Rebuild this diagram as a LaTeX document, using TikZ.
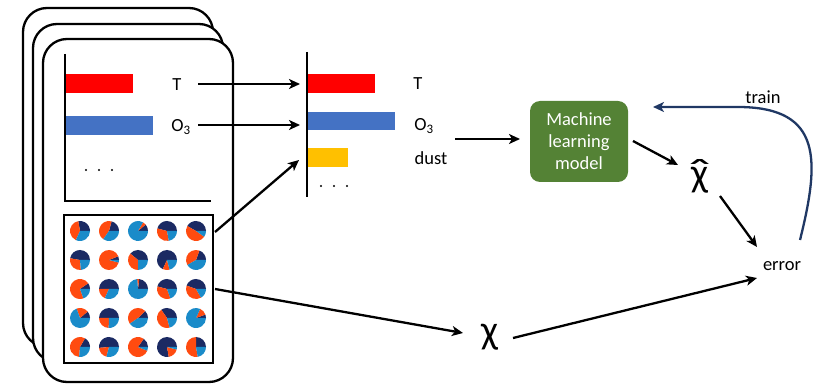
\documentclass[tikz,border=0pt]{standalone}
\usepackage{fontspec}
\usepackage{graphicx}
\setmainfont{Carlito}
\usetikzlibrary{arrows.meta}
\definecolor{barred}{HTML}{FF0000}
\definecolor{barblue}{HTML}{4472C4}
\definecolor{baryellow}{HTML}{FFC000}
\definecolor{mlgreen}{HTML}{548235}
\definecolor{trainnavy}{HTML}{203864}
\definecolor{pienavy}{HTML}{1B2A63}
\definecolor{pieblue}{HTML}{1A8BC9}
\definecolor{pieorange}{HTML}{FF4B10}
\begin{document}
\begin{tikzpicture}[x=1pt,y=-1pt,
  card/.style={draw=black,line width=2.3pt,fill=white,rounded corners=24pt},
  arr/.style={line width=2.3pt,-{Stealth[length=11pt,width=10pt,inset=3pt]}},
  lbl/.style={font=\fontsize{18.5}{22}\selectfont,inner sep=0pt},
  axis/.style={line width=2.3pt},
  dotmark/.style={fill=black},
]
\useasboundingbox (0,0) rectangle (833,387);

% stacked cards
\draw[card] (23,8) rectangle (213,347);
\draw[card] (33,24) rectangle (223,362);
\draw[card] (43,39) rectangle (233,382);

% card bar chart
\draw[axis] (65,54) -- (65,201) -- (211,201);
\fill[barred] (66,74) rectangle (133,93);
\fill[barblue] (66,116) rectangle (153,135);
\node[lbl] (lT1) at (177,85) {T};
\node[lbl] (lO1) at (181,127) {O\textsubscript{3}};
\foreach \x in {86,99,112} \fill[dotmark] (\x,170) circle (1.1);

% pie grid
\node[draw,line width=1.4pt,minimum width=149pt,minimum height=148pt,inner sep=0pt] (piebox) at (138.5,289) {};
\foreach \c/\r/\a/\b in {1/1/100/245, 2/1/75/235, 3/1/40/60, 4/1/165/280, 5/1/150/325,
  1/2/170/275, 2/2/22/345, 3/2/140/270, 4/2/245/285, 5/2/70/210,
  1/3/35/290, 2/3/180/245, 3/3/83/95, 4/3/165/290, 5/3/160/300,
  1/4/40/110, 2/4/180/268, 3/4/45/215, 4/4/125/285, 5/4/20/65,
  1/5/60/265, 2/5/185/255, 3/5/55/338, 4/5/280/345, 5/5/90/280} {
  \pgfmathsetmacro\cx{80+(\c-1)*29}
  \pgfmathsetmacro\cy{231+(\r-1)*29}
  \fill[pienavy] (\cx,\cy) -- ++(10,0) arc[start angle=0,end angle=-\a,radius=10] -- cycle;
  \fill[pieorange] (\cx,\cy) -- ++(-\a:10) arc[start angle=-\a,end angle=-\b,radius=10] -- cycle;
  \fill[pieblue] (\cx,\cy) -- ++(-\b:10) arc[start angle=-\b,end angle=-360,radius=10] -- cycle;
}

% middle bar chart
\draw[axis] (307,52) -- (307,197);
\fill[barred] (308,74) rectangle (375,93);
\fill[barblue] (308,112) rectangle (395,130);
\fill[baryellow] (308,148) rectangle (348,167);
\node[lbl] (lT2) at (418,84) {T};
\node[lbl] (lO2) at (424,126) {O\textsubscript{3}};
\node[lbl] (lD2) at (431,158) {dust};
\foreach \x in {321,334,347} \fill[dotmark] (\x,186) circle (1.1);

% model and outputs
\node[fill=mlgreen,rounded corners=10pt,minimum width=98pt,minimum height=81pt,
  text=white,align=center,inner sep=0pt,font=\fontsize{18.5}{22}\selectfont] (ml) at (579,141.5) {Machine\\learning\\model};
\node[inner sep=0pt,anchor=base,font=\fontsize{40}{40}\selectfont] (chihat) at (700,187)
  {\ooalign{χ\cr\hidewidth\scalebox{1.6}[1]{ˆ}\hidewidth\cr}};
\node[inner sep=0pt,anchor=base,font=\fontsize{40}{40}\selectfont] (chi) at (490,344) {χ};
\node[lbl] (err) at (782,266) {error};
\node[lbl] (trn) at (763,97) {train};

% connector end points
\coordinate (a1s) at (198,84);   \coordinate (a1e) at (300,84);
\coordinate (a2s) at (198,125);  \coordinate (a2e) at (300,125);
\coordinate (a3s) at (215,232);  \coordinate (a3e) at (299,160);
\coordinate (a4s) at (215,289);  \coordinate (a4e) at (463,333);
\coordinate (a5s) at (455,139);  \coordinate (a5e) at (520,139);
\coordinate (a6s) at (633,141);  \coordinate (a6e) at (678,165);
\coordinate (a7s) at (720,196);  \coordinate (a7e) at (757,247);
\coordinate (a8s) at (513,338);  \coordinate (a8e) at (757,278);
\coordinate (trs) at (800,240);  \coordinate (tre) at (653,107);

\draw[arr] (a1s) -- (a1e);
\draw[arr] (a2s) -- (a2e);
\draw[arr] (a3s) -- (a3e);
\draw[arr] (a4s) -- (a4e);
\draw[arr] (a5s) -- (a5e);
\draw[arr] (a6s) -- (a6e);
\draw[arr] (a7s) -- (a7e);
\draw[arr] (a8s) -- (a8e);
\draw[arr,draw=trainnavy] (trs) .. controls (820,160) and (822,108) .. (740,107) -- (tre);
\end{tikzpicture}
\end{document}
